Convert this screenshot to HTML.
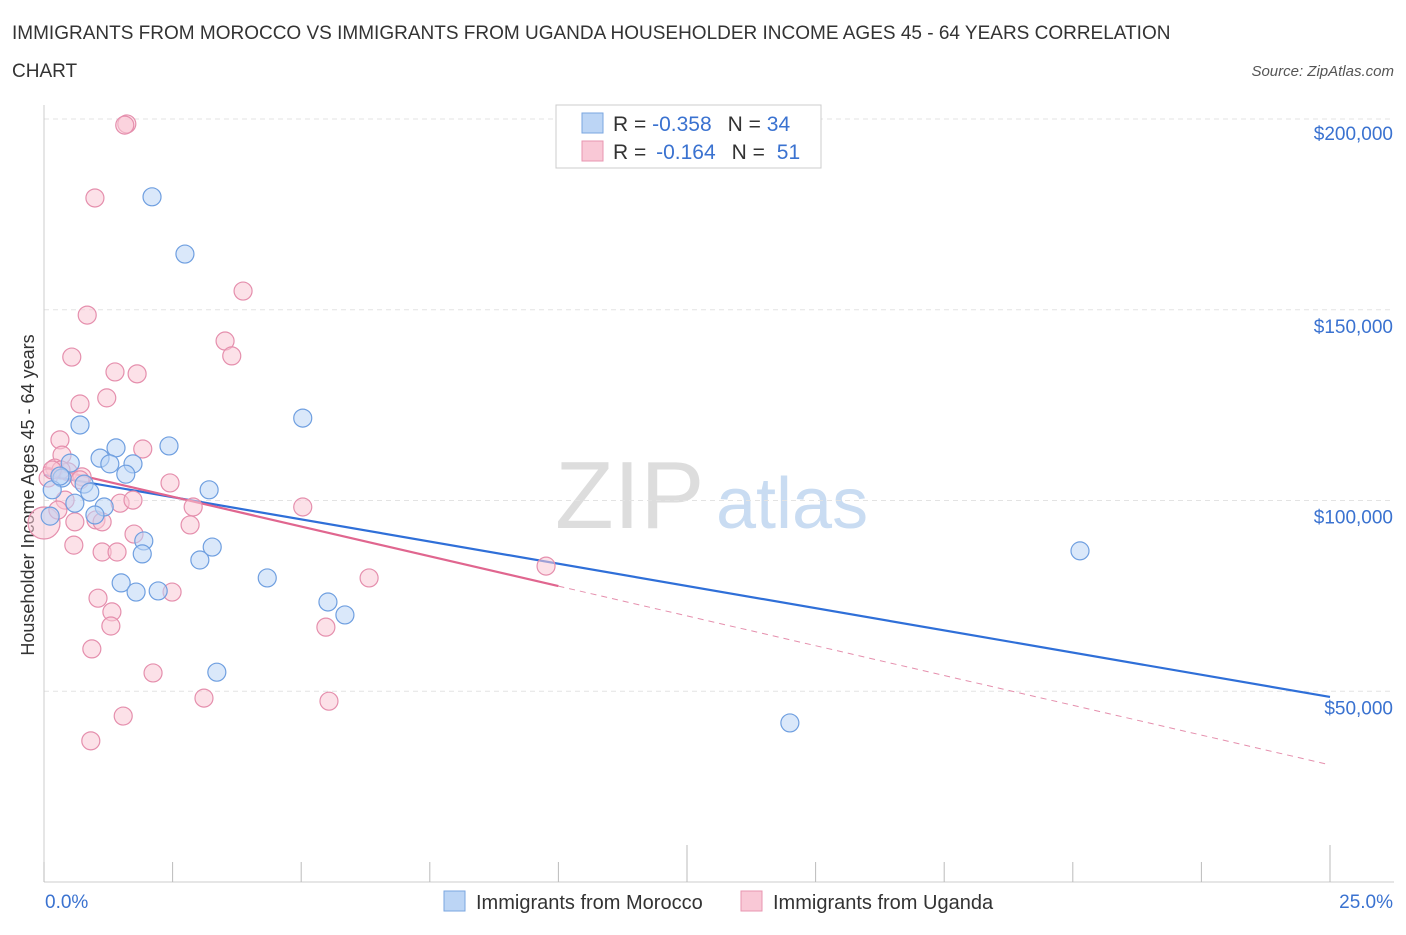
<!DOCTYPE html>
<html><head><meta charset="utf-8"><style>
body{margin:0;background:#fff;font-family:"Liberation Sans",sans-serif;}
svg text{font-family:"Liberation Sans",sans-serif;}
</style></head><body>
<svg id="chart" width="1406" height="930" xmlns="http://www.w3.org/2000/svg">
<text x="12" y="39" font-size="19" fill="#333">IMMIGRANTS FROM MOROCCO VS IMMIGRANTS FROM UGANDA HOUSEHOLDER INCOME AGES 45 - 64 YEARS CORRELATION</text>
<text x="12" y="77" font-size="19" fill="#333">CHART</text>
<text x="1394" y="76" font-size="15" fill="#555" font-style="italic" text-anchor="end">Source: ZipAtlas.com</text>
<text x="555" y="528" font-size="96" fill="#ddd" font-family="Liberation Serif">ZIP</text>
<text x="716" y="528" font-size="72" fill="#c9dcf2">atlas</text>
<text transform="translate(34,495) rotate(-90)" font-size="18" fill="#333" text-anchor="middle">Householder Income Ages 45 - 64 years</text>
<g id="grid"></g><g id="axes"></g><g id="lines"></g><g id="pts"></g>
<g>
<rect x="556" y="105" width="265" height="63" fill="#fff" stroke="#ccc"/>
<rect x="582" y="113" width="21" height="20" fill="#bcd5f5" stroke="#7aa6e0"/>
<text x="613" y="131" font-size="21" fill="#333">R = <tspan fill="#3a72d0">-0.358</tspan><tspan dx="16">N = </tspan><tspan fill="#3a72d0">34</tspan></text>
<rect x="582" y="141" width="21" height="20" fill="#f9c8d6" stroke="#e896b0"/>
<text x="613" y="159" font-size="21" fill="#333">R = <tspan dx="4" fill="#3a72d0">-0.164</tspan><tspan dx="16">N = </tspan><tspan dx="6" fill="#3a72d0">51</tspan></text>
</g>
<g>
<rect x="444" y="891" width="21" height="20" fill="#bcd5f5" stroke="#7aa6e0"/>
<text x="476" y="909" font-size="20" fill="#333">Immigrants from Morocco</text>
<rect x="741" y="891" width="21" height="20" fill="#f9c8d6" stroke="#e896b0"/>
<text x="773" y="909" font-size="20" fill="#333">Immigrants from Uganda</text>
</g>
</svg>
<script>
const xTickLabels=["0.0%","25.0%"];
const yTicks=[50000,100000,150000,200000];
const yTickLabels=["$50,000","$100,000","$150,000","$200,000"];
const moroccoX=[2.10,2.74,5.03,0.70,2.43,1.40,1.09,0.51,1.28,1.73,1.59,0.35,0.78,0.89,3.21,0.16,0.60,1.17,0.99,1.94,3.27,1.91,3.03,4.34,1.50,1.79,2.22,5.52,5.85,3.36,14.50,20.14,0.12,0.31];
const moroccoY=[179.6,164.6,121.6,119.8,114.3,113.8,111.1,109.8,109.6,109.6,106.9,105.9,104.3,102.2,102.8,102.8,99.3,98.3,96.2,89.4,87.8,86.0,84.4,79.7,78.4,76.0,76.3,73.4,70.0,55.0,41.7,86.8,95.9,106.4];
const ugandaX=[1.61,1.57,0.99,3.87,0.84,3.52,0.54,3.65,1.38,1.81,1.22,0.70,0.31,1.92,0.35,0.21,0.47,0.74,2.45,0.08,0.41,1.48,1.73,2.90,5.03,1.01,0.60,1.13,2.84,1.75,0.58,1.13,1.42,0.33,9.76,6.32,1.05,2.49,1.32,1.30,5.48,0.93,2.12,3.11,5.54,1.54,0.91,0.0,0.16,0.70,0.27];
const ugandaY=[198.7,198.4,179.3,154.9,148.6,141.8,137.6,137.9,133.7,133.2,126.9,125.3,115.9,113.5,111.9,108.5,107.5,106.2,104.6,105.9,100.1,99.3,100.1,98.3,98.3,94.9,94.4,94.4,93.6,91.2,88.3,86.5,86.5,108.0,82.8,79.7,74.4,76.0,70.8,67.1,66.8,61.1,54.8,48.2,47.4,43.5,37.0,94.1,108.0,105.4,97.5];
const moroccoTrend=[106.7,48.5];
const ugandaTrend=[108.8,30.7];
const ugandaSolidEnd=10;

const NS="http://www.w3.org/2000/svg";
const X0=44,X1=1330,Y0=882,Y1=119;
const xs=p=>X0+p/25*(X1-X0);
const ys=k=>Y0-k/200*(Y0-Y1);
function mk(parent,tag,attrs){const e=document.createElementNS(NS,tag);for(const k in attrs)e.setAttribute(k,attrs[k]);document.getElementById(parent).appendChild(e);return e;}

yTicks.forEach((v,i)=>{
  const y=ys(v/1000);
  const g=mk('grid','line',{x1:X0,x2:1394,y1:y,y2:y,stroke:'#e3e3e3','stroke-dasharray':'5,4'});
  
  
  const t=mk('axes','text',{x:1393,y:(i==3? y+21 : y+23),'font-size':19,fill:'#3a72d0','text-anchor':'end'});
  t.textContent=yTickLabels[i];
  
  
});
const ax=mk('axes','line',{x1:X0,x2:X0,y1:105,y2:Y0,stroke:'#ccc'});


const bx=mk('axes','line',{x1:X0,x2:1394,y1:Y0,y2:Y0,stroke:'#ccc'});


for(let i=0;i<=10;i++){
  const x=X0+i*(X1-X0)/10;
  const tk=mk('axes','line',{x1:x,x2:x,y1:i==5||i==10?845:862,y2:Y0,stroke:'#bbb'});
  
  
}
[[45,'start',0],[1393,'end',1]].forEach(a=>{
  const t=mk('axes','text',{x:a[0],y:908,'font-size':19,fill:'#3a72d0','text-anchor':a[1]});
  t.textContent=xTickLabels[a[2]];
  
  
});
function pts(X,Y,fill,stroke,name){
  X.forEach((x,i)=>{
    const c=mk('pts','circle',{cx:xs(x),cy:ys(Y[i]),r:(x===0&&name==='uganda-point')?16:9,fill:fill,'fill-opacity':0.55,stroke:stroke,'stroke-width':1.2});
    
    
  });
}
pts(ugandaX,ugandaY,'#f9c8d6','#e58fad','uganda-point');
pts(moroccoX,moroccoY,'#bcd5f5','#6f9fe0','morocco-point');
const l1=mk('lines','line',{x1:xs(0),y1:ys(moroccoTrend[0]),x2:xs(25),y2:ys(moroccoTrend[1]),stroke:'#2f6fd8','stroke-width':2.2});


const um=ugandaTrend[0]+(ugandaTrend[1]-ugandaTrend[0])*ugandaSolidEnd/25;
const l2=mk('lines','line',{x1:xs(0),y1:ys(ugandaTrend[0]),x2:xs(ugandaSolidEnd),y2:ys(um),stroke:'#e0668f','stroke-width':2.2});


const l3=mk('lines','line',{x1:xs(ugandaSolidEnd),y1:ys(um),x2:xs(25),y2:ys(ugandaTrend[1]),stroke:'#e58fad','stroke-width':1,'stroke-dasharray':'6,5'});


</script>
</body></html>
